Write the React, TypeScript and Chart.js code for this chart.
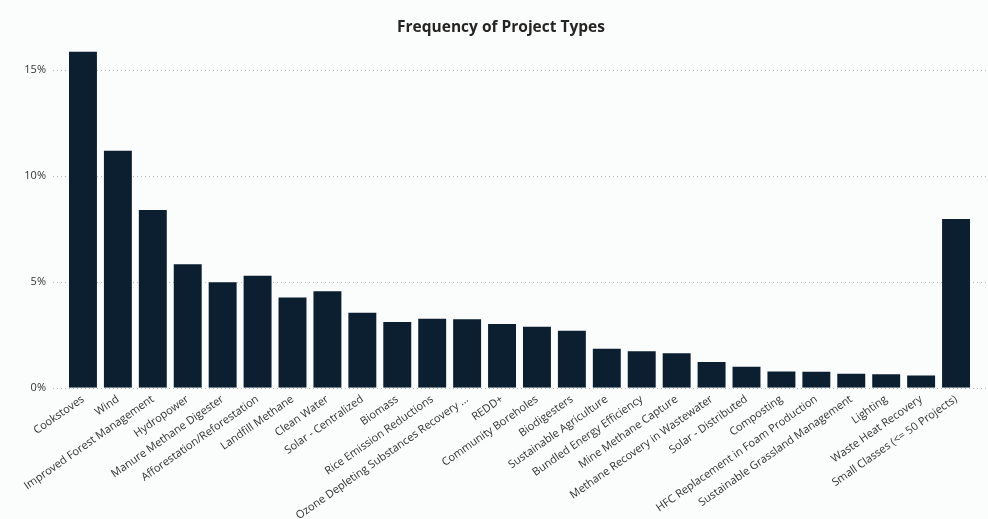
import React, { useEffect, useRef } from "react";
import { Chart, registerables } from "chart.js";

Chart.register(...registerables);

const categories: string[] = [
  "Cookstoves",
  "Wind",
  "Improved Forest Management",
  "Hydropower",
  "Manure Methane Digester",
  "Afforestation/Reforestation",
  "Landfill Methane",
  "Clean Water",
  "Solar - Centralized",
  "Biomass",
  "Rice Emission Reductions",
  "Ozone Depleting Substances Recovery ...",
  "REDD+",
  "Community Boreholes",
  "Biodigesters",
  "Sustainable Agriculture",
  "Bundled Energy Efficiency",
  "Mine Methane Capture",
  "Methane Recovery in Wastewater",
  "Solar - Distributed",
  "Composting",
  "HFC Replacement in Foam Production",
  "Sustainable Grassland Management",
  "Lighting",
  "Waste Heat Recovery",
  "Small Classes (<= 50 Projects)",
];

const shares: number[] = [
  15.85, 11.18, 8.38, 5.82, 4.97, 5.28, 4.25, 4.55, 3.54, 3.1, 3.25, 3.23, 3.0,
  2.88, 2.69, 1.84, 1.72, 1.62, 1.21, 0.99, 0.77, 0.75, 0.66, 0.64, 0.58, 7.96,
];

const yTicks: number[] = [0, 5, 10, 15];

const FONT = "'Open Sans', 'Noto Sans', sans-serif";

const dottedGrid = {
  id: "dottedGrid",
  beforeDatasetsDraw(chart: any) {
    const { ctx, chartArea, scales } = chart;
    const y = scales.y;
    ctx.save();
    ctx.strokeStyle = "#b9bcbe";
    ctx.lineWidth = 1;
    ctx.setLineDash([1, 3]);
    for (const v of yTicks) {
      const py = Math.round(y.getPixelForValue(v)) + 0.5;
      ctx.beginPath();
      ctx.moveTo(chartArea.left - 12.5, py);
      ctx.lineTo(chartArea.right + 13, py);
      ctx.stroke();
    }
    ctx.restore();
  },
};

export default function App() {
  const ref = useRef<HTMLCanvasElement | null>(null);

  useEffect(() => {
    if (!ref.current) return;
    const chart = new Chart(ref.current, {
      type: "bar",
      data: {
        labels: categories,
        datasets: [
          {
            label: "Share of projects",
            data: shares,
            backgroundColor: "#0b1f30",
            borderWidth: 0,
            barPercentage: 0.8,
            categoryPercentage: 1,
          },
        ],
      },
      options: {
        responsive: false,
        animation: false,
        layout: { padding: { left: 14, right: 0, top: 0, bottom: 0 } },
        plugins: {
          legend: { display: false },
          tooltip: { enabled: false },
          title: {
            display: true,
            text: "Frequency of Project Types",
            color: "#252423",
            font: { family: FONT, size: 15.5, weight: "bold", lineHeight: 1.2 },
            padding: { top: 18, bottom: 11.9 },
          },
        },
        scales: {
          x: {
            offset: true,
            grid: { display: false, drawTicks: false },
            border: { display: false },
            ticks: {
              autoSkip: false,
              minRotation: 35,
              maxRotation: 35,
              padding: 5,
              color: "#333333",
              font: { family: FONT, size: 11 },
            },
            afterFit(scale: any) {
              scale.height = 131.3;
            },
          },
          y: {
            min: 0,
            max: 16,
            grid: { display: false, drawTicks: false },
            border: { display: false },
            afterBuildTicks(scale: any) {
              scale.ticks = yTicks.map((v) => ({ value: v }));
            },
            ticks: {
              padding: 19.5,
              color: "#333333",
              font: { family: FONT, size: 11 },
              callback: (v: any) => `${v}%`,
            },
            afterFit(scale: any) {
              scale.width = 51.5;
            },
          },
          yRight: {
            type: "linear",
            position: "right",
            display: true,
            grid: { display: false, drawTicks: false },
            border: { display: false },
            ticks: { display: false },
            afterFit(scale: any) {
              scale.width = 14.5;
            },
          },
        },
      },
      plugins: [dottedGrid],
    });
    return () => chart.destroy();
  }, []);

  return (
    <div
      style={{
        position: "fixed",
        left: 0,
        top: 0,
        width: 988,
        height: 519,
        background: "#fbfcfc",
      }}
    >
      <canvas ref={ref} width={988} height={519} />
    </div>
  );
}
